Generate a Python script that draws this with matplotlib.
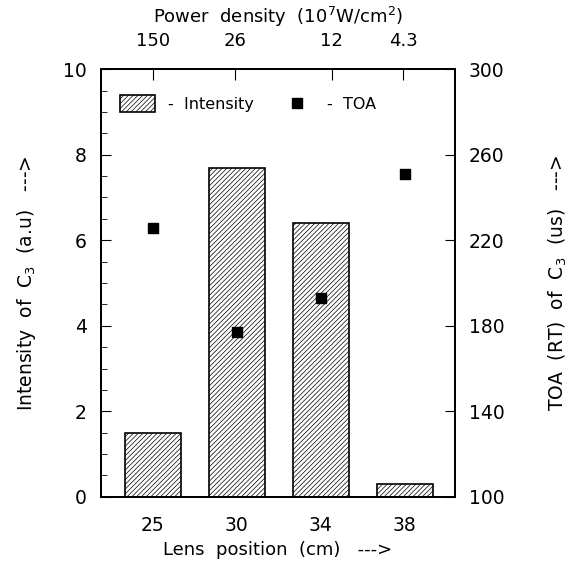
import matplotlib
matplotlib.use("Agg")
import matplotlib.pyplot as plt
from matplotlib.ticker import MultipleLocator

plt.rcParams['font.family'] = ['DejaVu Sans']
plt.rcParams['hatch.linewidth'] = 0.5
plt.rcParams['mathtext.default'] = 'regular'

lens_pos = ['25', '30', '34', '38']
intensity = [1.5, 7.68, 6.40, 0.3]
toa = [225.5, 177, 193, 251]
power_labels = ['150', '26', '12', '4.3']
power_ticks = [0, 0.98, 2.13, 2.98]

x = list(range(len(lens_pos)))

fig = plt.figure(figsize=(5.76, 5.62), dpi=100)
ax = fig.add_axes([0.175, 0.116, 0.615, 0.761])

bars = ax.bar(x, intensity, width=0.67, color='white', edgecolor='black',
              linewidth=1.2, hatch='///////')
ax.set_xlim(-0.62, 3.6)
ax.set_ylim(0, 10)
ax.set_xticks(x)
ax.set_xticklabels(lens_pos)
ax.tick_params(axis='x', length=0, pad=14, labelsize=13.5)
ax.yaxis.set_major_locator(MultipleLocator(2))
ax.yaxis.set_minor_locator(MultipleLocator(0.5))
ax.tick_params(axis='y', which='major', direction='in', length=7, pad=10, labelsize=13.5)
ax.tick_params(axis='y', which='minor', direction='in', length=4)
ax.set_xlabel('Lens  position  (cm)   --->', fontsize=13, labelpad=4)
ax.set_ylabel('Intensity  of  C$_3$  (a.u)   --->', fontsize=13.5, labelpad=18)

ax2 = ax.twinx()
ax2.scatter(x, toa, marker='s', s=45, color='black', zorder=3)
ax2.set_ylim(100, 300)
ax2.set_yticks([100, 140, 180, 220, 260, 300])
ax2.tick_params(axis='y', direction='in', length=7, pad=10, labelsize=13.5)
ax2.set_ylabel('TOA  (RT)  of  C$_3$  (us)   --->', fontsize=13.5, labelpad=30)

ax3 = ax.twiny()
ax3.set_xlim(ax.get_xlim())
ax3.set_xticks(power_ticks)
ax3.set_xticklabels(power_labels)
ax3.tick_params(axis='x', direction='in', length=8, pad=14, labelsize=13)
ax3.set_xlabel('Power  density  (10$^7$W/cm$^2$)', fontsize=13, labelpad=6)

for a in (ax, ax2, ax3):
    for s in a.spines.values():
        s.set_linewidth(1.3)

handles = [bars, ax2.collections[0]]
ax2.legend(handles, ['-  Intensity', '-  TOA'], loc='upper left', ncol=2,
           frameon=False, fontsize=11.5, handlelength=2.2, handleheight=1.2,
           handletextpad=0.8, columnspacing=1.6,
           bbox_to_anchor=(0.014, 0.972))

fig.savefig('out.png', dpi=100)
